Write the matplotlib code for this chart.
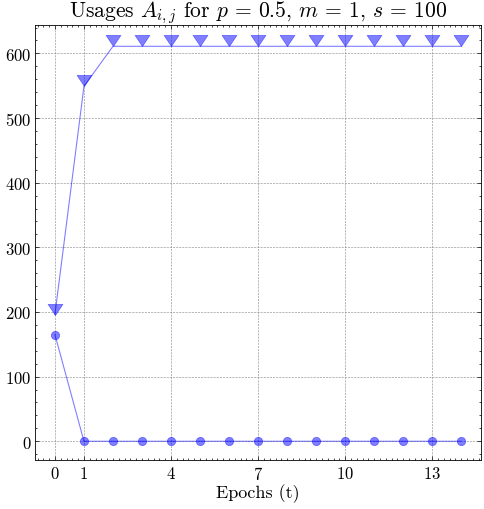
import matplotlib
matplotlib.use("Agg")
import matplotlib.pyplot as plt
from matplotlib.path import Path
from matplotlib.ticker import MultipleLocator

plt.rcParams.update({
    "font.family": "serif",
    "font.serif": ["cmr10", "DejaVu Serif"],
    "mathtext.fontset": "cm",
    "axes.formatter.use_mathtext": True,
    "axes.unicode_minus": False,
})

epochs = list(range(15))
usage_tri = [196, 549] + [611] * 13
usage_dot = [165] + [0] * 14
xtick_vals = [0, 1, 4, 7, 10, 13]

tip_down = Path([(-1.0, 1.5), (0.0, 0.0), (1.0, 1.5), (-1.0, 1.5)], closed=True)

fig = plt.figure(figsize=(4.84, 5.10), dpi=100)
ax = fig.add_axes([0.0733, 0.0961, 0.9205, 0.853])

ax.plot(epochs, usage_tri, color="blue", alpha=0.5, lw=0.8,
        marker=tip_down, markersize=16, markeredgewidth=0.5)
ax.plot(epochs, usage_dot, color="blue", alpha=0.5, lw=0.8,
        marker="o", markersize=6, markeredgewidth=0.5)

ax.set_xlim(-0.67, 14.68)
ax.set_ylim(-29, 644)
ax.set_xticks(xtick_vals)
ax.xaxis.set_minor_locator(MultipleLocator(0.2))
ax.yaxis.set_major_locator(MultipleLocator(100))
ax.yaxis.set_minor_locator(MultipleLocator(20))

ax.tick_params(which="both", direction="in", top=True, right=True, labelsize=12, width=0.5)
ax.tick_params(which="major", length=3)
ax.tick_params(which="minor", length=1.5)
ax.tick_params(axis="y", pad=3)
for s in ax.spines.values():
    s.set_linewidth(0.6)

ax.grid(True, which="major", color="gray", linestyle=(0, (3, 1.5)), linewidth=0.5, alpha=0.8)

ax.set_title(r"Usages $A_{i,j}$ for $p$ = 0.5, $m$ = 1, $s$ = 100", fontsize=15.5, pad=4)
ax.set_xlabel("Epochs (t)", fontsize=13, labelpad=1)

fig.savefig("out.png", dpi=100)
